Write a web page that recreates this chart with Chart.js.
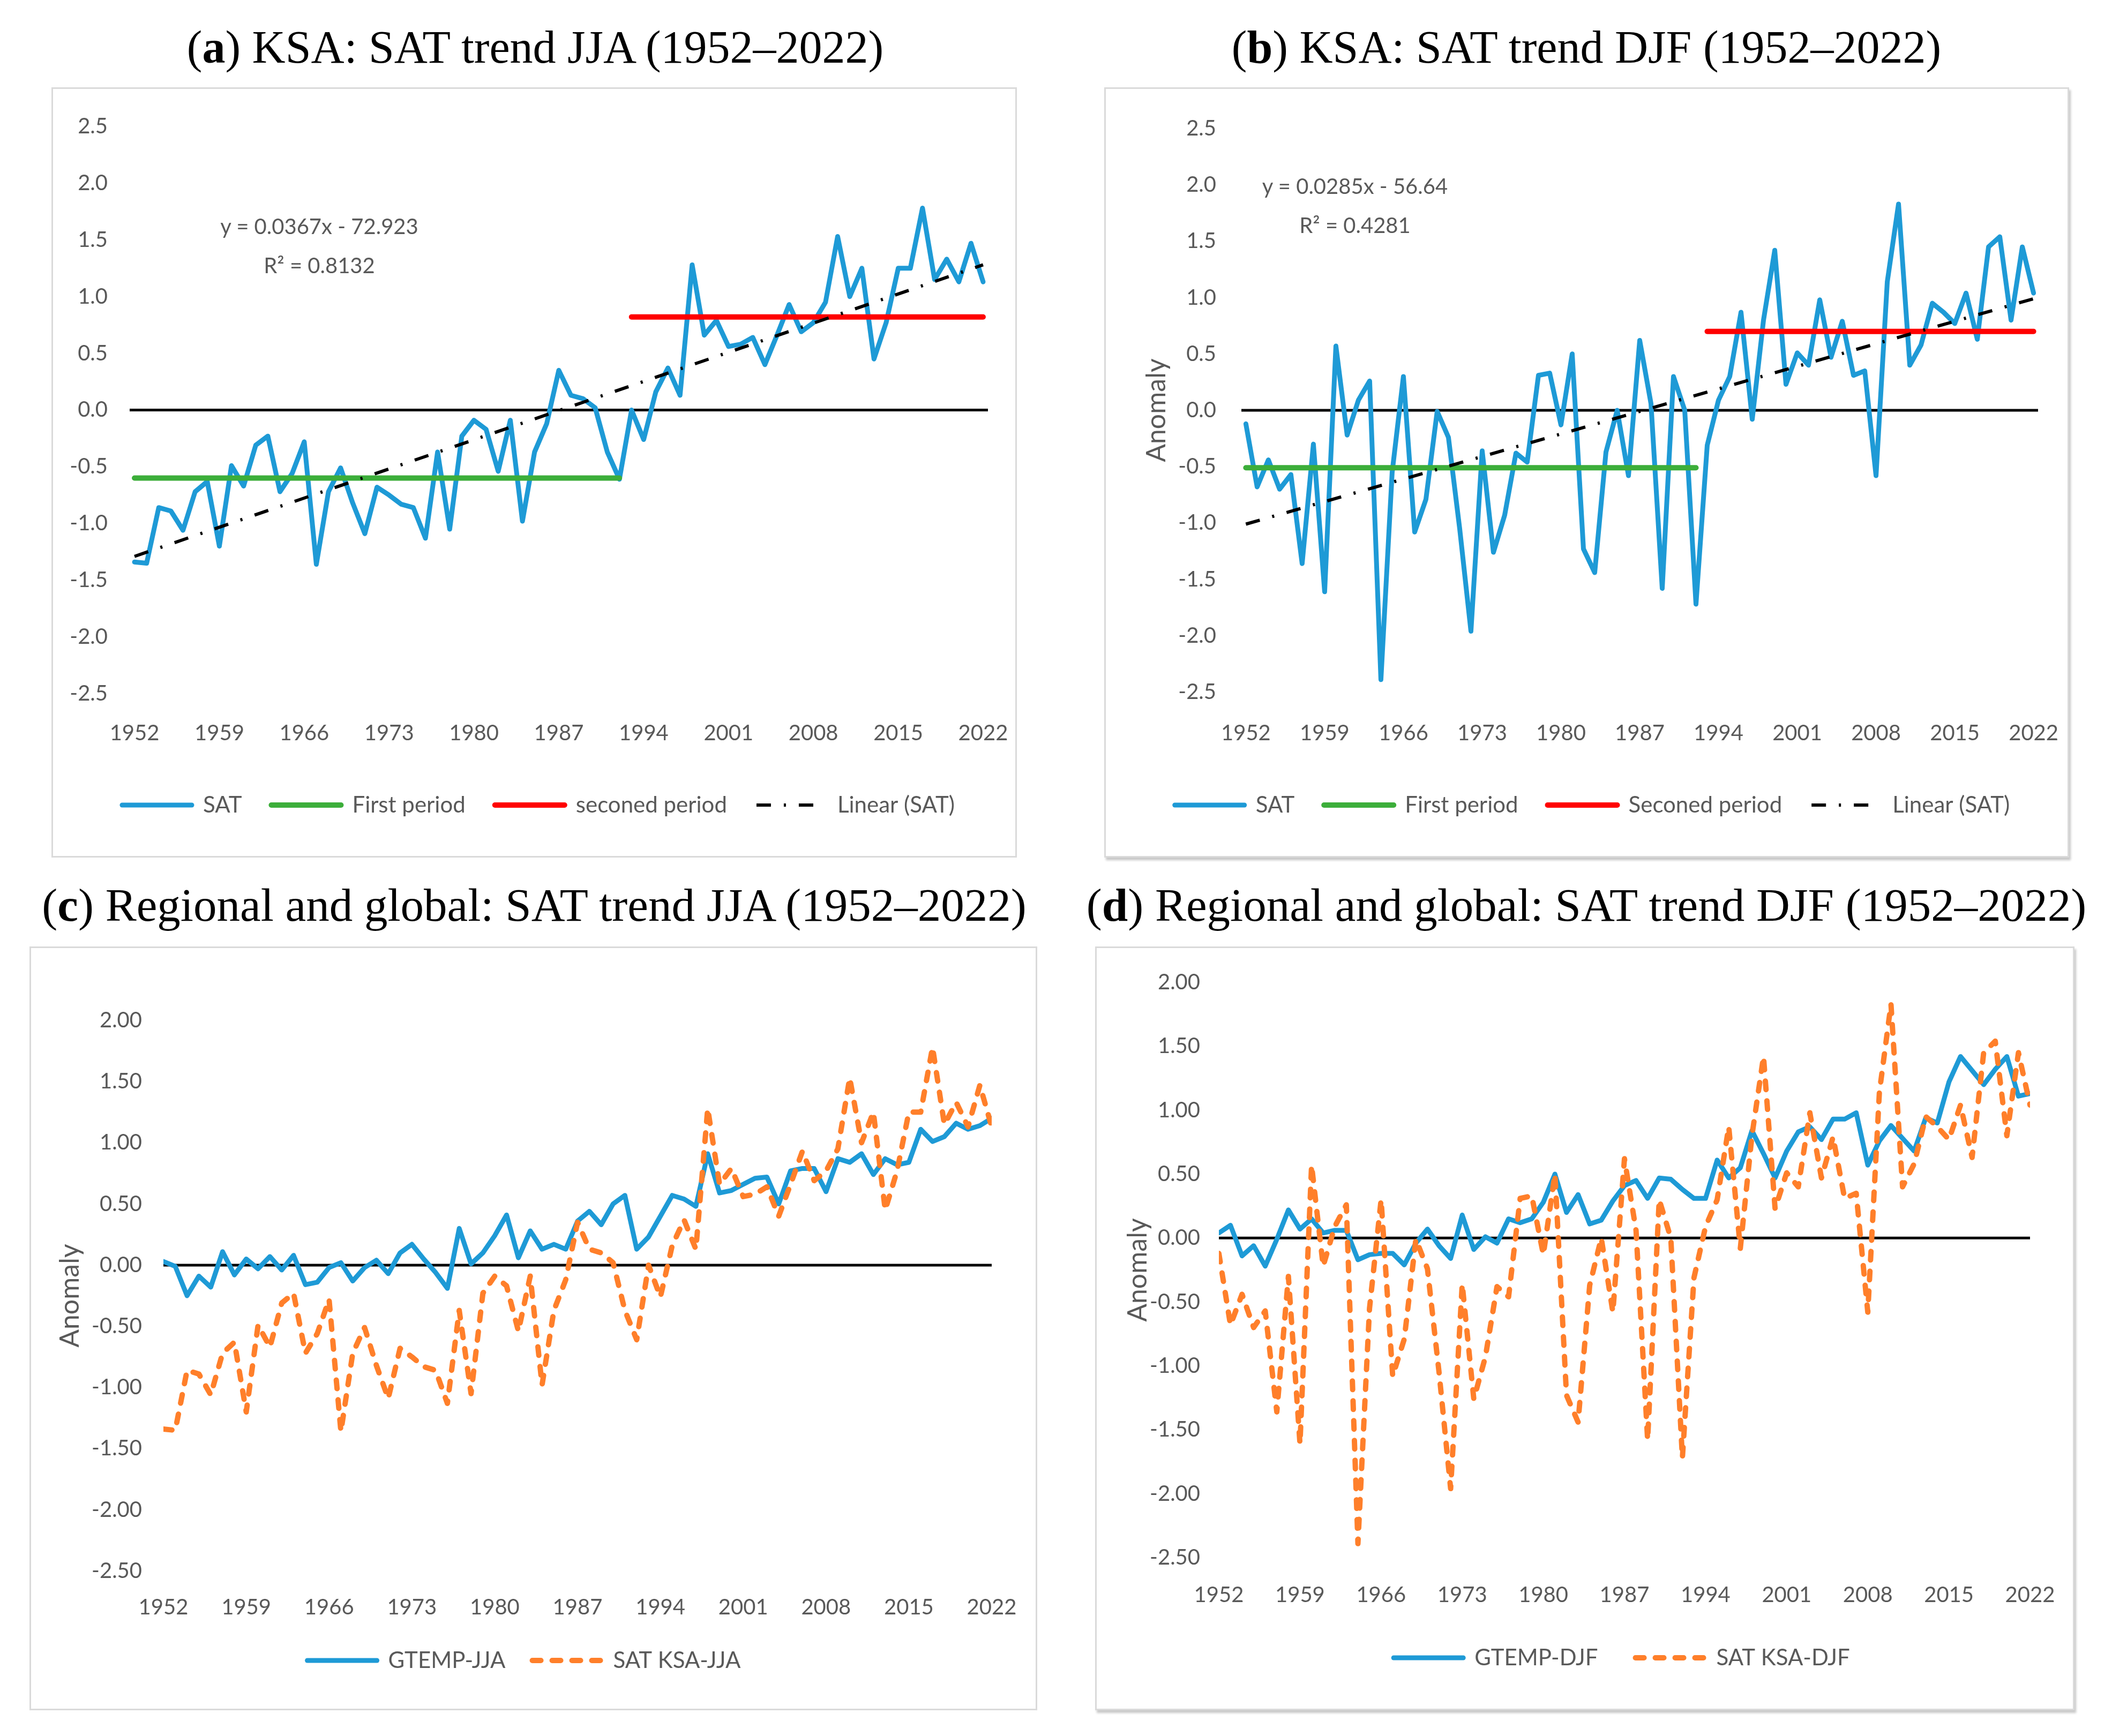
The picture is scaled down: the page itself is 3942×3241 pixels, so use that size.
<!DOCTYPE html>
<html><head><meta charset="utf-8">
<script src="https://cdn.jsdelivr.net/npm/chart.js@4.4.1/dist/chart.umd.min.js"></script>
<style>
html,body{margin:0;padding:0;background:#fff;}
body{width:3942px;height:3241px;position:relative;overflow:hidden;}
.title{position:absolute;font-family:"Liberation Serif","Times New Roman",serif;font-size:86px;color:#000;white-space:nowrap;transform:translate(-50%,-50%);line-height:1;}
.wide{font-size:87px;}
.box{position:absolute;box-sizing:border-box;border:3px solid #dadada;background:#fff;}
.shadow{box-shadow:3px 5px 4px #c8c8c8;}
canvas{position:absolute;}
.eq{position:absolute;font-family:Lato,sans-serif;font-size:40px;color:#595959;white-space:nowrap;transform:translate(-50%,-50%);line-height:1;}
</style></head><body>
<div class="title" style="left:999px;top:88px">(<b>a</b>) KSA: SAT trend JJA (1952–2022)</div>
<div class="title" style="left:2961px;top:88px">(<b>b</b>) KSA: SAT trend DJF (1952–2022)</div>
<div class="title wide" style="left:997px;top:1689px">(<b>c</b>) Regional and global: SAT trend JJA (1952–2022)</div>
<div class="title wide" style="left:2961px;top:1689px">(<b>d</b>) Regional and global: SAT trend DJF (1952–2022)</div>

<div class="box" style="left:96px;top:163px;width:1802px;height:1438px"></div>
<div class="box shadow" style="left:2061px;top:163px;width:1801px;height:1438px"></div>
<div class="box" style="left:55px;top:1767px;width:1881px;height:1426px"></div>
<div class="box shadow" style="left:2044px;top:1767px;width:1828px;height:1426px"></div>

<canvas id="ca" width="1818" height="1438" style="left:96px;top:163px"></canvas>
<canvas id="cb" width="1822" height="1438" style="left:2061px;top:163px"></canvas>
<canvas id="cc" width="1846" height="1426" style="left:55px;top:1767px"></canvas>
<canvas id="cd" width="1966" height="1426" style="left:2044px;top:1767px"></canvas>

<div class="eq" style="left:596px;top:422px">y = 0.0367x - 72.923</div>
<div class="eq" style="left:596px;top:495px">R² = 0.8132</div>
<div class="eq" style="left:2529px;top:347px">y = 0.0285x - 56.64</div>
<div class="eq" style="left:2529px;top:420px">R² = 0.4281</div>

<script>
// ---------- DATA ----------
const years = [1952,1953,1954,1955,1956,1957,1958,1959,1960,1961,1962,1963,1964,1965,1966,1967,1968,1969,1970,1971,
  1972,1973,1974,1975,1976,1977,1978,1979,1980,1981,1982,1983,1984,1985,1986,1987,1988,1989,1990,1991,
  1992,1993,1994,1995,1996,1997,1998,1999,2000,2001,2002,2003,2004,2005,2006,2007,2008,2009,2010,2011,
  2012,2013,2014,2015,2016,2017,2018,2019,2020,2021,2022];
const xTicks = [1952,1959,1966,1973,1980,1987,1994,2001,2008,2015,2022];

const satJJA = [-1.34,-1.35,-0.86,-0.89,-1.06,-0.72,-0.63,-1.20,-0.49,-0.67,-0.31,-0.23,-0.72,-0.56,-0.28,-1.36,-0.72,-0.51,-0.82,-1.09,
  -0.68,-0.75,-0.83,-0.86,-1.13,-0.37,-1.05,-0.23,-0.09,-0.17,-0.54,-0.09,-0.98,-0.37,-0.12,0.35,0.13,0.10,0.02,-0.37,
  -0.61,0.00,-0.26,0.16,0.37,0.13,1.28,0.66,0.79,0.56,0.58,0.64,0.40,0.66,0.93,0.69,0.77,0.95,1.53,1.00,
  1.25,0.45,0.77,1.25,1.25,1.78,1.15,1.33,1.13,1.47,1.13];

const satDJF = [-0.12,-0.68,-0.44,-0.70,-0.57,-1.36,-0.30,-1.61,0.57,-0.22,0.09,0.26,-2.39,-0.55,0.30,-1.08,-0.79,-0.01,-0.24,-1.05,
  -1.96,-0.36,-1.26,-0.93,-0.38,-0.46,0.31,0.33,-0.13,0.50,-1.23,-1.44,-0.37,0.00,-0.58,0.62,0.06,-1.58,0.30,0.00,
  -1.72,-0.31,0.09,0.30,0.87,-0.08,0.80,1.42,0.23,0.51,0.40,0.98,0.47,0.79,0.31,0.35,-0.58,1.14,1.83,0.40,
  0.58,0.95,0.87,0.77,1.04,0.63,1.45,1.54,0.80,1.45,1.04];

const gtempJJA = [0.03,-0.01,-0.25,-0.09,-0.18,0.11,-0.08,0.05,-0.03,0.07,-0.04,0.08,-0.16,-0.14,-0.02,0.02,-0.13,-0.02,0.04,-0.07,
  0.10,0.17,0.05,-0.06,-0.19,0.30,0.01,0.10,0.24,0.41,0.06,0.28,0.13,0.17,0.13,0.36,0.44,0.33,0.50,0.57,
  0.13,0.23,0.40,0.57,0.54,0.48,0.91,0.59,0.61,0.66,0.71,0.72,0.50,0.77,0.79,0.79,0.60,0.87,0.84,0.91,
  0.74,0.87,0.82,0.84,1.11,1.01,1.05,1.16,1.11,1.14,1.20];

const gtempDJF = [0.04,0.10,-0.14,-0.06,-0.22,-0.01,0.22,0.07,0.15,0.04,0.06,0.06,-0.17,-0.13,-0.12,-0.12,-0.21,-0.04,0.07,-0.06,
  -0.16,0.18,-0.09,0.01,-0.04,0.15,0.12,0.15,0.28,0.50,0.20,0.34,0.11,0.14,0.29,0.41,0.45,0.31,0.47,0.46,
  0.38,0.31,0.31,0.61,0.47,0.55,0.84,0.66,0.47,0.68,0.83,0.87,0.77,0.93,0.93,0.98,0.57,0.76,0.88,0.78,
  0.68,0.94,0.90,1.22,1.42,1.31,1.20,1.32,1.42,1.11,1.13];

const firstPeriodYears = [1952, 1992];
const secondPeriodYears = [1993, 2022];
const firstJJA = [-0.60, -0.60];
const secondJJA = [0.82, 0.82];
const firstDJF = [-0.51, -0.51];
const secondDJF = [0.70, 0.70];
const trendYears = [1952, 2022];
const trendJJA = [-1.29, 1.28];
const trendDJF = [-1.01, 0.99];
const zeroYearsAB = [1951.6, 2022.4];
const zeroYearsCD = [1952, 2022];
const zeroVals = [0, 0];

// ---------- STYLE ----------
const BLUE = '#1e9ad6', GREEN = '#3cae3a', RED = '#ff0000', ORANGE = '#ff7f2a', BLACK = '#000000', GRAY = '#595959';
const pts = (xs, ys) => xs.map((x, i) => ({x: x, y: ys[i]}));

function line(label, xs, ys, color, width, order, extra) {
  return Object.assign({
    label: label, data: pts(xs, ys), borderColor: color, backgroundColor: color,
    borderWidth: width, pointRadius: 0, tension: 0, fill: false, order: order,
    borderJoinStyle: 'round', borderCapStyle: 'round', xAxisID: 'x', yAxisID: 'y'
  }, extra || {});
}

function legendLabels(chart) {
  const items = Chart.defaults.plugins.legend.labels.generateLabels(chart);
  return items.filter(it => it.text !== '').map(it => {
    const ds = chart.data.datasets[it.datasetIndex];
    it.lineDash = ds.borderDash || [];
    it.lineWidth = ds.borderWidth;
    it.strokeStyle = ds.borderColor;
    it.fillStyle = ds.borderColor;
    it.lineCap = ds.borderCapStyle;
    it.pointStyle = 'line';
    return it;
  });
}

function build(id, o) {
  const scales = {
    x: {
      type: 'linear', min: o.xmin, max: o.xmax,
      grid: {display: false, drawTicks: true, tickLength: o.xtp}, border: {display: false},
      afterBuildTicks: s => { s.ticks = xTicks.map(v => ({value: v})); },
      afterFit: s => { s.height = o.xh; },
      ticks: {autoSkip: false, maxRotation: 0, padding: 0, color: GRAY,
        font: {family: 'Lato', size: 40}, callback: v => String(v)}
    },
    y: {
      type: 'linear', position: 'left', min: -2.5, max: o.ymax,
      grid: {display: false, drawTicks: true, tickLength: o.ytp}, border: {display: false},
      afterFit: s => { s.width = o.yw; },
      ticks: {stepSize: 0.5, padding: 0, color: GRAY, font: {family: 'Lato', size: 40},
        callback: v => Number(v).toFixed(o.dec)},
      title: o.ytitle ? {display: true, text: 'Anomaly', color: GRAY,
        font: {family: 'Lato', size: 50}, padding: {top: o.ttp, bottom: 0}} : {display: false}
    },
    y2: {
      type: 'linear', position: 'right', display: true,
      grid: {display: false, drawTicks: false}, border: {display: false},
      ticks: {display: false}, afterFit: s => { s.width = o.y2w; }
    }
  };
  return new Chart(document.getElementById(id), {
    type: 'line',
    data: {datasets: o.datasets},
    options: {
      responsive: false, animation: false, devicePixelRatio: 1,
      layout: {padding: o.pad},
      plugins: {
        legend: {
          position: 'bottom',
          labels: {
            usePointStyle: true, pointStyle: 'line', pointStyleWidth: 130,
            padding: o.lp, color: GRAY, font: {family: 'Lato', size: 42},
            generateLabels: legendLabels,
            filter: it => it.text !== '',
            sort: (a, b) => a.datasetIndex - b.datasetIndex
          }
        },
        tooltip: {enabled: false}
      },
      scales: scales
    }
  });
}

const dashDot = [27, 24, 4, 24];
const orangeDash = [16, 21];

build('ca', {
  xmin: 1951.6, xmax: 2022.4, ymax: 2.5, dec: 1, ytitle: false,
  pad: {left: 0, right: 0, top: 73, bottom: 67},
  yw: 146, ytp: 41, y2w: 70, xh: 132, xtp: 50, lp: 55, ttp: 0,
  datasets: [
    line('SAT', years, satJJA, BLUE, 9, 3),
    line('First period', firstPeriodYears, firstJJA, GREEN, 10, 2),
    line('seconed period', secondPeriodYears, secondJJA, RED, 10, 1),
    line('Linear (SAT)', trendYears, trendJJA, BLACK, 6, 0, {borderDash: dashDot, borderCapStyle: 'butt'}),
    line('', zeroYearsAB, zeroVals, BLACK, 5, 4, {borderCapStyle: 'butt'})
  ]
});

build('cb', {
  xmin: 1951.6, xmax: 2022.4, ymax: 2.5, dec: 1, ytitle: true,
  pad: {left: 0, right: 0, top: 77, bottom: 67},
  yw: 256, ytp: 47, y2w: 79, xh: 135, xtp: 53, lp: 55, ttp: 68,
  datasets: [
    line('SAT', years, satDJF, BLUE, 9, 3),
    line('First period', firstPeriodYears, firstDJF, GREEN, 10, 2),
    line('Seconed period', secondPeriodYears, secondDJF, RED, 10, 1),
    line('Linear (SAT)', trendYears, trendDJF, BLACK, 6, 0, {borderDash: dashDot, borderCapStyle: 'butt'}),
    line('', zeroYearsAB, zeroVals, BLACK, 5, 4, {borderCapStyle: 'butt'})
  ]
});

build('cc', {
  xmin: 1952, xmax: 2022, ymax: 2.0, dec: 2, ytitle: true,
  pad: {left: 0, right: 0, top: 138, bottom: 62},
  yw: 250, ytp: 40, y2w: 50, xh: 96, xtp: 44, lp: 50, ttp: 46,
  datasets: [
    line('GTEMP-JJA', years, gtempJJA, BLUE, 9, 1),
    line('SAT KSA-JJA', years, satJJA, ORANGE, 10, 0, {borderDash: orangeDash}),
    line('', zeroYearsCD, zeroVals, BLACK, 5, 2, {borderCapStyle: 'butt'})
  ]
});

build('cd', {
  xmin: 1952, xmax: 2022, ymax: 2.0, dec: 2, ytitle: true,
  pad: {left: 0, right: 0, top: 67, bottom: 67},
  yw: 231, ytp: 35, y2w: 221, xh: 96, xtp: 46, lp: 70, ttp: 50,
  datasets: [
    line('GTEMP-DJF', years, gtempDJF, BLUE, 9, 1),
    line('SAT KSA-DJF', years, satDJF, ORANGE, 10, 0, {borderDash: orangeDash}),
    line('', zeroYearsCD, zeroVals, BLACK, 5, 2, {borderCapStyle: 'butt'})
  ]
});
</script>
</body></html>
